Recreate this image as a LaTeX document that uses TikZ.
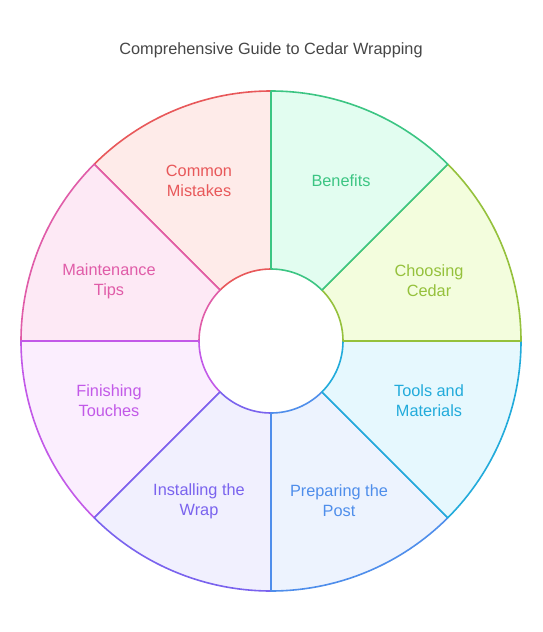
\documentclass[tikz,border=0pt]{standalone}
\usepackage{fontspec}
\setmainfont{Liberation Sans}
\definecolor{cBen}{HTML}{3CC583}\definecolor{fBen}{HTML}{E2FDF0}
\definecolor{cCho}{HTML}{95C13C}\definecolor{fCho}{HTML}{F3FDDD}
\definecolor{cToo}{HTML}{22ABDB}\definecolor{fToo}{HTML}{E6F8FE}
\definecolor{cPre}{HTML}{4F8EEB}\definecolor{fPre}{HTML}{EDF3FE}
\definecolor{cIns}{HTML}{7A63EE}\definecolor{fIns}{HTML}{F1F0FE}
\definecolor{cFin}{HTML}{C259E8}\definecolor{fFin}{HTML}{FBEEFE}
\definecolor{cMai}{HTML}{E05CA8}\definecolor{fMai}{HTML}{FDE9F5}
\definecolor{cCom}{HTML}{E8585A}\definecolor{fCom}{HTML}{FEEBE9}
\definecolor{ttl}{HTML}{464646}
\tikzset{
  lbl/.style={font=\fontsize{16.3}{20}\selectfont, align=center, inner sep=0pt},
  sect/.style={line width=1.6pt, line join=round}
}
\newcommand{\sector}[4]{% start angle, end angle, stroke, fill
  \draw[sect, draw=#3, fill=#4] ({271+72*cos(#1)},{341-72*sin(#1)}) -- ({271+250*cos(#1)},{341-250*sin(#1)})
    arc[start angle=-#1, end angle=-#2, radius=250] -- ({271+72*cos(#2)},{341-72*sin(#2)})
    arc[start angle=-#2, end angle=-#1, radius=72] -- cycle;}
\begin{document}
\begin{tikzpicture}[x=1pt,y=-1pt]
\useasboundingbox (0,0) rectangle (542,632);
\fill[white] (0,0) rectangle (542,632);
\node[lbl, text=ttl] (title) at (271,50) {Comprehensive Guide to Cedar Wrapping};
% drawing order chosen so shared edges take the right colour
\sector{135}{90}{cCom}{fCom}
\sector{180}{135}{cMai}{fMai}
\sector{225}{180}{cFin}{fFin}
\sector{270}{225}{cIns}{fIns}
\sector{315}{270}{cPre}{fPre}
\sector{360}{315}{cToo}{fToo}
\sector{45}{0}{cCho}{fCho}
\sector{90}{45}{cBen}{fBen}
\node[lbl, text=cBen] (ben) at (341,181) {Benefits};
\node[lbl, text=cCho] (cho) at (429,281) {Choosing\\Cedar};
\node[lbl, text=cToo] (too) at (429,401) {Tools and\\Materials};
\node[lbl, text=cPre] (pre) at (339,501) {Preparing the\\Post};
\node[lbl, text=cIns] (ins) at (199,501) {Installing the\\Wrap};
\node[lbl, text=cFin] (fin) at (109,401) {Finishing\\Touches};
\node[lbl, text=cMai] (mai) at (109,281) {Maintenance\\Tips};
\node[lbl, text=cCom] (com) at (199,181) {Common\\Mistakes};
\end{tikzpicture}
\end{document}
